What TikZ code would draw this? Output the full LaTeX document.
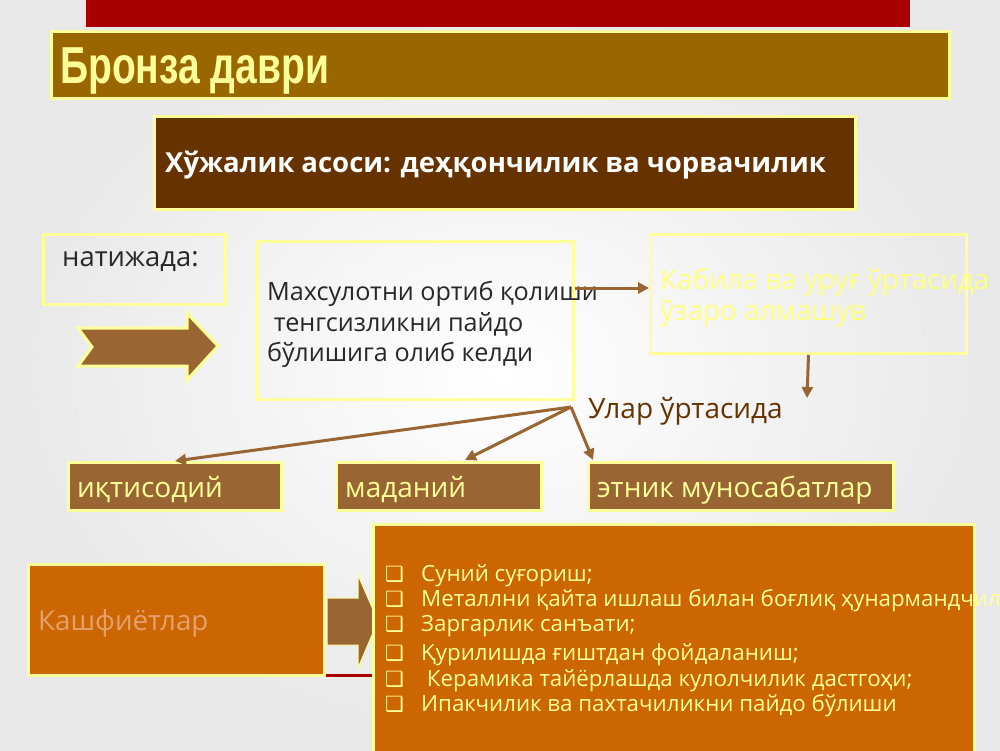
\documentclass[tikz,border=0pt]{standalone}
\usepackage{fontspec}
\setmainfont{Open Sans}
\newfontfamily\titlefont[FakeStretch=0.75]{Liberation Sans}
\newfontfamily\bulfont{DejaVu Sans}
\usetikzlibrary{arrows.meta,calc}
\definecolor{redbar}{RGB}{168,0,0}
\definecolor{olive}{RGB}{153,102,0}
\definecolor{ylw}{RGB}{255,255,153}
\definecolor{dbrown}{RGB}{102,51,0}
\definecolor{mbrown}{RGB}{153,102,51}
\definecolor{orng}{RGB}{204,102,0}
\definecolor{peach}{RGB}{228,160,110}
\definecolor{ktext}{RGB}{255,255,128}
\definecolor{dgray}{RGB}{40,40,40}
\begin{document}
\begin{tikzpicture}[x=1pt,y=-1pt,
  box/.style={draw=ylw,line width=3pt,inner sep=0pt,anchor=north west},
  txt/.style={anchor=base west,inner sep=0pt},
  arr/.style={draw=mbrown,line width=3pt,-{Triangle[length=11pt,width=11pt]}},
  bul/.style={txt,font=\bulfont\bfseries\fontsize{21}{24}\selectfont,text=ylw},
  item/.style={txt,font=\fontsize{22.3}{26}\selectfont,text=ylw}]
\useasboundingbox (0,0) rectangle (1000,750);
\clip (0,0) rectangle (1000,750);
\shade[inner color=white,outer color=gray!18] (0,0) rectangle (1000,750);
% top red bar
\fill[redbar] (86,0) rectangle (910,27);
% title
\node[box,fill=olive,minimum width=898pt,minimum height=67pt] (tbox) at (50,30) {};
\node[txt,font=\titlefont\bfseries\fontsize{52}{60}\selectfont,text=ylw] (ttl) at (60,83) {Бронза даври};
% economy box
\node[box,fill=dbrown,minimum width=701pt,minimum height=93pt] (ebox) at (153,115) {};
\node[txt,font=\bfseries\fontsize{27.5}{32}\selectfont,text=white] (etxt) at (165,172) {Хўжалик асоси: деҳқончилик ва чорвачилик};
% natijada
\node[box,minimum width=182pt,minimum height=70pt] (nbox) at (42,233) {};
\node[txt,font=\fontsize{27.4}{32}\selectfont,text=dgray] (ntxt) at (62,266) {натижада:};
% block arrow
\fill[mbrown,draw=ylw,line width=3pt] (78,328) -- (187,328) -- (187,313) -- (218,346) -- (187,380) -- (187,366) -- (78,366) -- (92,347) -- cycle;
% mahsulot box
\node[box,minimum width=316pt,minimum height=158pt] (mbox) at (256,240) {};
\node[txt,font=\fontsize{25.2}{31}\selectfont,text=dgray] (m1) at (267,300) {Махсулотни ортиб қолиши};
\node[txt,font=\fontsize{25.2}{31}\selectfont,text=dgray] (m2) at (267,331) {\ тенгсизликни пайдо};
\node[txt,font=\fontsize{25.2}{31}\selectfont,text=dgray] (m3) at (267,361) {бўлишига олиб келди};
% kabila box
\node[box,minimum width=316pt,minimum height=119pt] (kbox) at (649,233) {};
\node[txt,font=\fontsize{27.8}{32}\selectfont,text=ktext] (k1) at (660,289) {Кабила ва уруғ ўртасида};
\node[txt,font=\fontsize{27.8}{32}\selectfont,text=ktext] (k2) at (660,320) {ўзаро алмашув};
\draw[arr] (kbox.west -| mbox.east) ++(0,-6) coordinate (a0) -- (a0 -| kbox.west);
\coordinate (d1) at (807,398);
\draw[arr] (kbox.south) -- (d1);
% ular
\node[txt,font=\fontsize{28}{32}\selectfont,text=dbrown] (ular) at (588,418) {Улар ўртасида};
% three boxes
\node[box,fill=mbrown,minimum width=213pt,minimum height=48pt] (b1) at (67,461) {};
\node[box,fill=mbrown,minimum width=205pt,minimum height=48pt] (b2) at (335,461) {};
\node[box,fill=mbrown,minimum width=305pt,minimum height=48pt] (b3) at (587,461) {};
\node[txt,font=\fontsize{28}{32}\selectfont,text=ylw] (t1) at (77,497) {иқтисодий};
\node[txt,font=\fontsize{28}{32}\selectfont,text=ylw] (t2) at (345,497) {маданий};
\node[txt,font=\fontsize{28}{32}\selectfont,text=ylw] (t3) at (597,497) {этник муносабатлар};
\coordinate (sp) at (571,407);
\coordinate (e2) at (465,460);
\coordinate (e3) at (593,460);
\draw[arr] (sp) -- (b1.north);
\draw[arr] (sp) -- (e2);
\draw[arr] (sp) -- (e3);
% bottom
\draw[redbar,line width=3pt] (86,675) -- (372,675);
\node[box,fill=orng,minimum width=296pt,minimum height=111pt] (kash) at (27,563) {};
\node[txt,font=\fontsize{27.7}{32}\selectfont,text=peach] (kt) at (38,630) {Кашфиётлар};
\fill[mbrown,draw=ylw,line width=1pt] (327,598) -- (358,598) -- (358,575) -- (378,621) -- (358,668) -- (358,645) -- (327,645) -- cycle;
\node[box,fill=orng,minimum width=601pt,minimum height=240pt] (big) at (372,523) {};
\foreach \y/\t [count=\i] in {581/{Суний суғориш;},606/{Металлни қайта ишлаш билан боғлиқ ҳунармандчилик},631/{Заргарлик санъати;},660/{Қурилишда ғиштдан фойдаланиш;},686/{\ Керамика тайёрлашда кулолчилик дастгоҳи;},711/{Ипакчилик ва пахтачиликни пайдо бўлиши}}{
  \node[bul] (bu\i) at (385,\y) {❑};
  \node[item] (it\i) at (421,\y) {\t};
}
\end{tikzpicture}
\end{document}
